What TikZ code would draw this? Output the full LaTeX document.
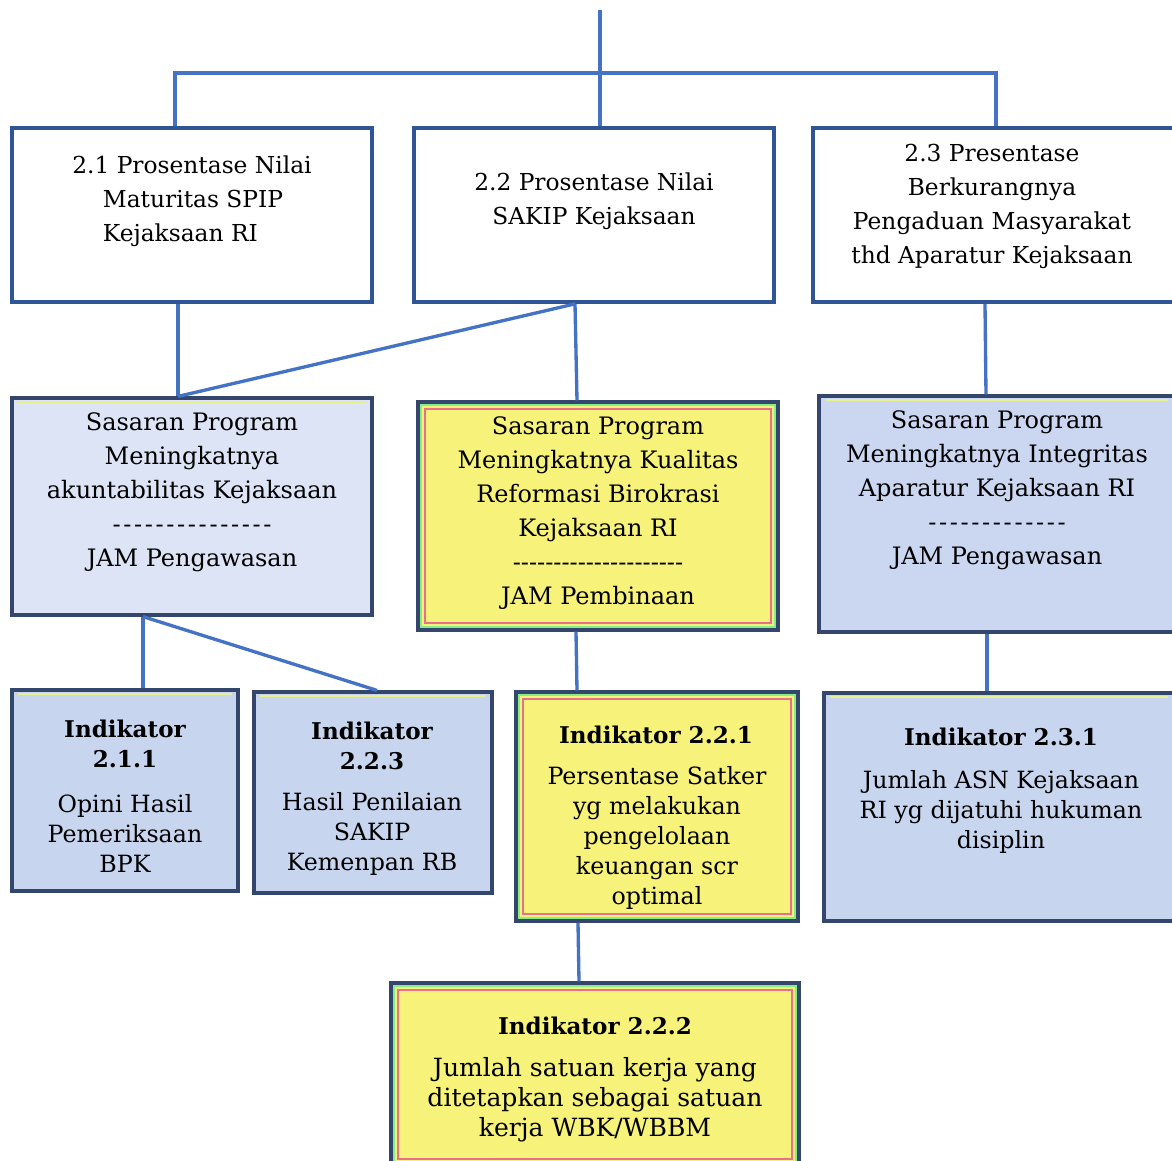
\documentclass[tikz,border=0pt]{standalone}
\usepackage{fontspec}
\setmainfont{DejaVu Serif}
\usetikzlibrary{fit,calc}
\definecolor{connblue}{HTML}{4472C4}
\definecolor{topborder}{HTML}{2F5597}
\definecolor{navy}{HTML}{34466B}
\definecolor{yel}{HTML}{F6F27A}
\definecolor{lb1}{HTML}{DCE4F5}
\definecolor{lb2}{HTML}{CBD7F0}
\definecolor{lb3}{HTML}{C8D5EE}
\definecolor{pinkl}{HTML}{E8708A}
\definecolor{greenl}{HTML}{86EE86}
\definecolor{stripe}{HTML}{E6F08C}
\newcommand\hyk{-\kern2pt}
\begin{document}
\begin{tikzpicture}[x=0.75pt,y=-0.75pt,
  topbox/.style={draw=topborder, line width=2.8pt, fill=white, inner sep=0pt},
  bluebox/.style={draw=navy, line width=2.4pt, inner sep=0pt},
  yelbox/.style={draw=navy, line width=2.4pt, fill=yel, inner sep=0pt},
  conn/.style={draw=connblue, line width=2.5pt},
  txt/.style={align=center, text=black, inner sep=0pt},
  ttop/.style={txt, font=\fontsize{17.5}{25.5}\selectfont},
  tsas/.style={txt, font=\fontsize{18}{25.5}\selectfont},
  tbold/.style={txt, font=\bfseries\fontsize{17.3}{22.5}\selectfont},
  tind/.style={txt, font=\fontsize{17.8}{22.5}\selectfont},
  pinkline/.style={draw=pinkl, line width=1.6pt},
  greenline/.style={draw=greenl, line width=1.6pt},
  stripeline/.style={draw=stripe, line width=1.5pt}]
\useasboundingbox (0,0) rectangle (1172,1161);

% ---- top level boxes
\node[topbox, fit={(12,128) (372,302)}] (a) {};
\node[topbox, fit={(414,128) (774,302)}] (b) {};
\node[topbox, fit={(813,128) (1174,302)}] (c) {};

% ---- sasaran boxes
\node[bluebox, fill=lb1, fit={(12,398) (372,615)}] (s1) {};
\node[yelbox, fit={(418,402) (778,630)}] (s2) {};
\node[bluebox, fill=lb2, fit={(819,396) (1174,632)}] (s3) {};

% ---- indikator boxes
\node[bluebox, fill=lb3, fit={(12,690) (238,891)}] (i211) {};
\node[bluebox, fill=lb3, fit={(254,692) (492,893)}] (i223) {};
\node[yelbox, fit={(516,692) (798,921)}] (i221) {};
\node[bluebox, fill=lb3, fit={(824,693) (1174,921)}] (i231) {};
\node[yelbox, fit={(391,983) (799,1166)}] (i222) {};

% ---- decorations inside boxes
\foreach \n in {s2,i221,i222}{
  \draw[greenline] ($(\n.north west)+(5,5)$) rectangle ($(\n.south east)+(-5,-5)$);
  \draw[pinkline] ($(\n.north west)+(9,9)$) rectangle ($(\n.south east)+(-9,-9)$);
}
\foreach \n in {s1,s3,i211,i223,i231}{
  \draw[stripeline] ($(\n.north west)+(8,6)$) -- ($(\n.north east)+(-8,6)$);
}

% ---- connectors
\coordinate (top) at (600,10);
\coordinate (jn) at (600,73);
\draw[conn] (top) -- ($(b.north)+(6,0)$);
\draw[conn] ($(a.north)+(-17,0)$) |- (jn) -| ($(c.north)+(2.5,0)$);
\draw[conn] ($(a.south)+(-14,0)$) -- ($(s1.north)+(-14,0)$);
\draw[conn] ($(b.south)+(-19,0)$) -- ($(s1.north)+(-14,0)$);
\draw[conn] ($(b.south)+(-19,0)$) -- ($(s2.north)+(-21,0)$);
\draw[conn] ($(c.south)+(-8.5,0)$) -- ($(s3.north)+(-10.5,0)$);
\draw[conn] ($(s1.south)+(-49,0)$) -- ($(i211.north)+(18,0)$);
\draw[conn] ($(s1.south)+(-49,0)$) -- ($(i223.north)+(4,0)$);
\draw[conn] ($(s2.south)+(-22,0)$) -- ($(i221.north)+(-80,0)$);
\draw[conn] ($(s3.south)+(-9.5,0)$) -- ($(i231.north)+(-12,0)$);
\draw[conn] ($(i221.south)+(-79,0)$) -- ($(i222.north)+(-16,0)$);

% ---- texts
\node[ttop, align=left] (ta) at (192,201) {2.1 Prosentase Nilai\\\hspace*{23pt}Maturitas SPIP\\\hspace*{23pt}Kejaksaan RI};
\node[ttop] (tb) at (594,201) {2.2 Prosentase Nilai\\SAKIP Kejaksaan};
\node[ttop] (tc) at (992,206) {2.3 Presentase\\Berkurangnya\\Pengaduan Masyarakat\\thd Aparatur Kejaksaan};

\node[tsas] (ts1) at (192,492) {Sasaran Program\\Meningkatnya\\akuntabilitas Kejaksaan\\\hyk\hyk\hyk\hyk\hyk\hyk\hyk\hyk\hyk\hyk\hyk\hyk\hyk\hyk-\\JAM Pengawasan};
\node[tsas] (ts2) at (598,513) {Sasaran Program\\Meningkatnya Kualitas\\Reformasi Birokrasi\\Kejaksaan RI\\-{}-{}-{}-{}-{}-{}-{}-{}-{}-{}-{}-{}-{}-{}-{}-{}-{}-{}-{}-{}-\\JAM Pembinaan};
\node[tsas] (ts3) at (997,490) {Sasaran Program\\Meningkatnya Integritas\\Aparatur Kejaksaan RI\\\hyk\hyk\hyk\hyk\hyk\hyk\hyk\hyk\hyk\hyk\hyk\hyk-\\JAM Pengawasan};

\node[tbold] (h211) at (125,744) {Indikator\\2.1.1};
\node[tind] (b211) at (125,833) {Opini Hasil\\Pemeriksaan\\BPK};
\node[tbold] (h223) at (372,746) {Indikator\\2.2.3};
\node[tind] (b223) at (372,834) {Hasil Penilaian\\SAKIP\\Kemenpan RB};
\node[tbold] (h221) at (656,735) {Indikator 2.2.1};
\node[tind] (b221) at (657,838) {Persentase Satker\\yg melakukan\\pengelolaan\\keuangan scr\\optimal};
\node[tbold] (h231) at (1001,737) {Indikator 2.3.1};
\node[tind] (b231) at (1001,812) {Jumlah ASN Kejaksaan\\RI yg dijatuhi hukuman\\disiplin};
\node[tbold] (h222) at (595,1026) {Indikator 2.2.2};
\node[tind, font=\fontsize{18.8}{22.5}\selectfont] (b222) at (595,1100) {Jumlah satuan kerja yang\\ditetapkan sebagai satuan\\kerja WBK/WBBM};
\end{tikzpicture}
\end{document}
